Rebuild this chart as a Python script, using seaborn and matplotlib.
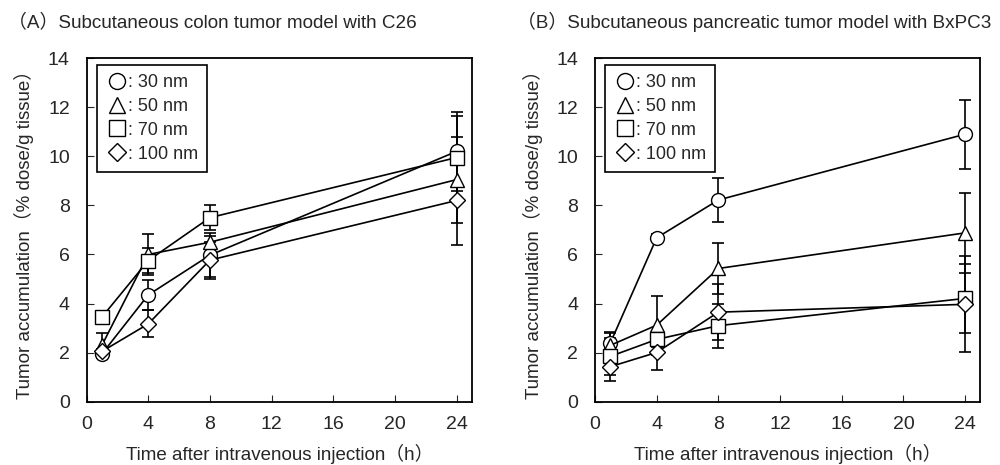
import pandas as pd
import matplotlib
matplotlib.use("Agg")
import matplotlib.pyplot as plt
from matplotlib.lines import Line2D
import seaborn as sns

# Datos
tiempos = [1, 4, 8, 24]
tamanos = ["30 nm", "50 nm", "70 nm", "100 nm"]
marcadores = {"30 nm": "o", "50 nm": "^", "70 nm": "s", "100 nm": "D"}

# (A) C26
a_media = {
    "30 nm": [1.95, 4.35, 5.97, 10.2],
    "50 nm": [2.3, 6.0, 6.5, 9.05],
    "70 nm": [3.45, 5.75, 7.5, 9.95],
    "100 nm": [2.05, 3.17, 5.77, 8.2],
}
a_error = {
    "30 nm": [0.1, 0.6, 0.9, 1.6],
    "50 nm": [0.5, 0.85, 0.25, 1.75],
    "70 nm": [0.2, 0.5, 0.5, 1.7],
    "100 nm": [0.1, 0.55, 0.75, 1.8],
}

# (B) BxPC3
b_media = {
    "30 nm": [2.4, 6.68, 8.22, 10.9],
    "50 nm": [2.3, 3.12, 5.43, 6.88],
    "70 nm": [1.85, 2.54, 3.1, 4.21],
    "100 nm": [1.43, 2.01, 3.65, 3.97],
}
b_error = {
    "30 nm": [0.2, 0.15, 0.9, 1.4],
    "50 nm": [0.5, 1.2, 1.05, 1.63],
    "70 nm": [1.0, 0.3, 0.9, 1.39],
    "100 nm": [0.35, 0.72, 1.15, 1.96],
}

titulos = ["（A）Subcutaneous colon tumor model with C26",
           "（B）Subcutaneous pancreatic tumor model with BxPC3"]

sns.set_style("ticks")
fuente = ["Liberation Sans", "Noto Sans CJK JP"]
plt.rcParams["font.family"] = fuente
plt.rcParams["xtick.direction"] = "in"
plt.rcParams["ytick.direction"] = "in"


def tabla(media, error):
    filas = []
    for t in tamanos:
        for x, y, e in zip(tiempos, media[t], error[t]):
            filas.append({"Tiempo": x, "Acumulacion": y, "Error": e, "Tamano": t})
    return pd.DataFrame(filas)


fig = plt.figure(figsize=(10, 4.65), dpi=100)
posiciones = [[0.0865, 0.136, 0.3855, 0.739], [0.595, 0.136, 0.3855, 0.739]]
datos = [tabla(a_media, a_error), tabla(b_media, b_error)]
tam_marcador = {"o": 10, "^": 10, "s": 9.5, "D": 8}

for i, df in enumerate(datos):
    ax = fig.add_axes(posiciones[i])
    for t in tamanos:
        sub = df[df["Tamano"] == t]
        ax.errorbar(sub["Tiempo"], sub["Acumulacion"], yerr=sub["Error"],
                    fmt="none", ecolor="black", elinewidth=1.2, capsize=4,
                    capthick=1.2, zorder=1)
    sns.lineplot(data=df, x="Tiempo", y="Acumulacion", style="Tamano",
                 markers=marcadores, dashes=False, color="black",
                 markersize=10, markerfacecolor="white", markeredgecolor="black",
                 markeredgewidth=1, linewidth=1.2, legend=False, ax=ax,
                 zorder=2)
    for linea in ax.lines:
        m = linea.get_marker()
        if m in tam_marcador:
            linea.set_markersize(tam_marcador[m])

    ax.set_xlim(0, 25)
    ax.set_ylim(0, 14)
    ax.set_xticks(range(0, 25, 4))
    ax.set_yticks(range(0, 15, 2))
    ax.tick_params(labelsize=14, length=5, width=0.8)
    ax.tick_params(axis="y", pad=12)
    ax.tick_params(axis="x", pad=10)
    for s in ax.spines.values():
        s.set_linewidth(1.3)
        s.set_color("black")
    ax.set_xlabel("Time after intravenous injection（h）", fontsize=13.5,
                  family=fuente, labelpad=8)
    ax.set_ylabel("Tumor accumulation（% dose/g tissue）", fontsize=13.5,
                  family=fuente, labelpad=10)

    manejadores = [Line2D([], [], marker=marcadores[t], color="black",
                          linestyle="none",
                          markersize=tam_marcador[marcadores[t]] + 1.5,
                          markerfacecolor="white", markeredgewidth=1)
                   for t in tamanos]
    leyenda = ax.legend(manejadores, [": " + t for t in tamanos],
                        loc="upper left", bbox_to_anchor=(0.027, 0.98),
                        fontsize=13, frameon=True, fancybox=False,
                        edgecolor="black", handletextpad=0, handlelength=1.2,
                        borderpad=0.5, labelspacing=0.38, borderaxespad=0)
    leyenda.get_frame().set_linewidth(1.2)
    leyenda.get_frame().set_alpha(1)

    fig.text(0.008 + i * 0.509, 0.952, titulos[i], fontsize=13.6,
             family=fuente, va="center", ha="left")

fig.savefig("out.png", dpi=100)
